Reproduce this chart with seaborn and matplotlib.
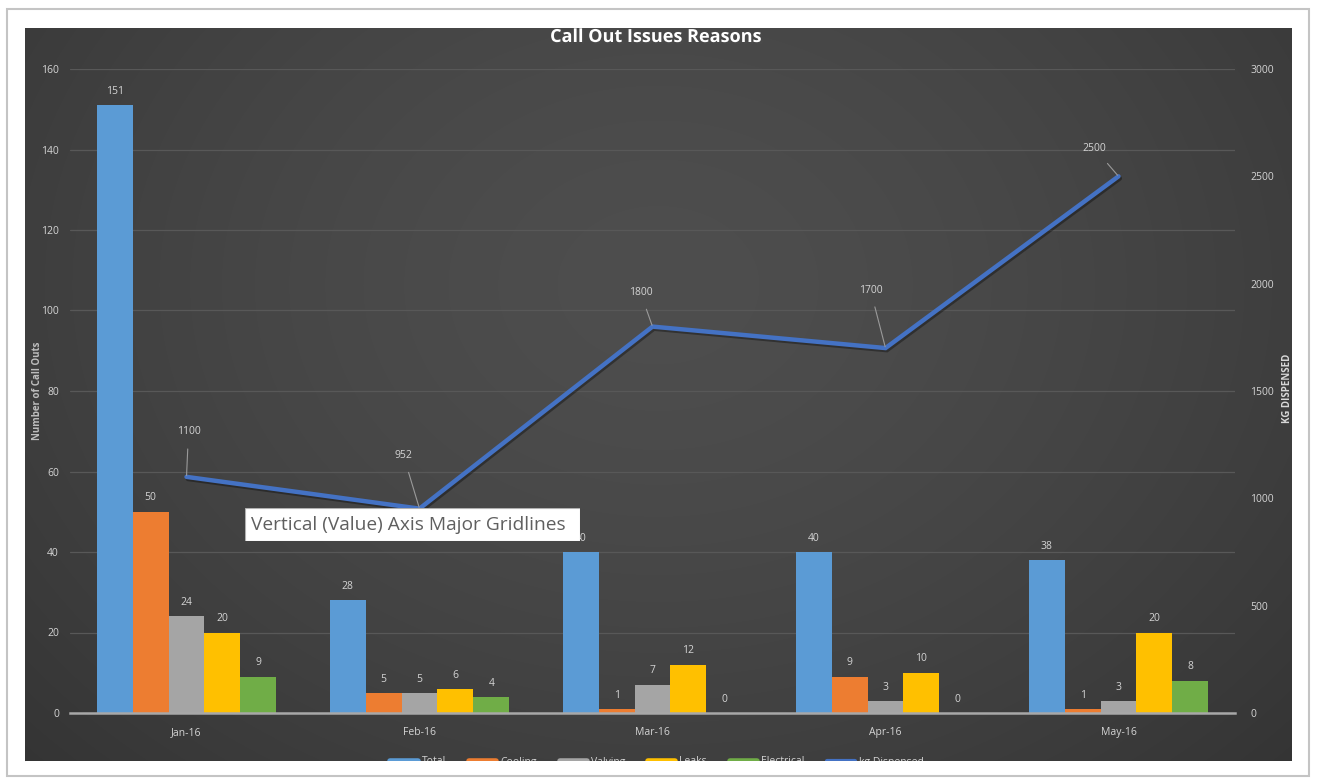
import numpy as np
import pandas as pd
import matplotlib
matplotlib.use("Agg")
import matplotlib.pyplot as plt
import matplotlib.patheffects as pe
from matplotlib.lines import Line2D
from matplotlib.patches import Rectangle
import seaborn as sns

# ---------------- data ----------------
months = ["Jan-16", "Feb-16", "Mar-16", "Apr-16", "May-16"]
series_names = ["Total", "Cooling", "Valving", "Leaks", "Electrical"]
total = [151, 28, 40, 40, 38]
cooling = [50, 5, 1, 9, 1]
valving = [24, 5, 7, 3, 3]
leaks = [20, 6, 12, 10, 20]
electrical = [9, 4, 0, 0, 8]
kg_dispensed = [1100, 952, 1800, 1700, 2500]
line_name = "kg Dispensed"

left_ticks = [0, 20, 40, 60, 80, 100, 120, 140, 160]
right_ticks = [0, 500, 1000, 1500, 2000, 2500, 3000]

# ---------------- styles ----------------
bar_colors = ["#5B9BD5", "#ED7D31", "#A5A5A5", "#FFC000", "#70AD47"]
line_color = "#4472C4"
txt_color = "#d4d4d4"
FONT = ["Open Sans", "DejaVu Sans"]
# label offsets (pixels) for the line labels
line_label_offsets = [(2, 45), (-16, 53), (-12, 34), (-15, 58), (-24, 28)]

sns.set_style("dark")
plt.rcParams["font.family"] = FONT

W, H = 1317, 778
fig = plt.figure(figsize=(W / 100, H / 100), dpi=100, facecolor="white")

def fx(px):
    return px / W

def fy(py):
    return 1 - py / H

# background dark gradient panel
bx0, by0, bx1, by1 = 25, 28, 1292, 762
bg = fig.add_axes([fx(bx0), fy(by1), fx(bx1 - bx0), (by1 - by0) / H], zorder=-1)
yy, xx = np.mgrid[0:1:300j, 0:1:600j]
r = np.sqrt(((xx - 0.5) / 0.7) ** 2 + ((yy - 0.35) / 0.95) ** 2)
val = 78 - 26 * np.clip(r, 0, 1.2) ** 1.5
val = np.clip(val, 44, 90) / 255.0
img = np.dstack([val, val, val])
bg.imshow(img, aspect="auto", extent=[0, 1, 0, 1], origin="upper", interpolation="bilinear")
bg.set_axis_off()

# main axes
ax_l, ax_r, ax_t, ax_b = 70, 1235, 69, 713
ax = fig.add_axes([fx(ax_l), fy(ax_b), fx(ax_r - ax_l), (ax_b - ax_t) / H], zorder=1)
ax.set_facecolor("none")

df = pd.DataFrame({
    "Month": np.repeat(months, len(series_names)),
    "Series": series_names * len(months),
    "Value": np.array([total, cooling, valving, leaks, electrical]).T.ravel(),
})

sns.barplot(data=df, x="Month", y="Value", hue="Series", order=months,
            hue_order=series_names, palette=bar_colors, width=0.77,
            saturation=1, ax=ax, legend=False, errorbar=None, zorder=3,
            linewidth=0, edgecolor="none")

for cont in ax.containers:
    ax.bar_label(cont, labels=[f"{int(v)}" for v in cont.datavalues],
                 padding=6, color=txt_color, fontsize=7.5, family=FONT)

ax.set_ylim(0, 160)
ax.set_yticks(left_ticks)
ax.set_xlim(-0.5, len(months) - 0.5)
ax.grid(axis="y", color="#585858", lw=0.9, zorder=0)
ax.grid(axis="x", visible=False)
ax.set_axisbelow(True)
for s in ["top", "right", "left"]:
    ax.spines[s].set_visible(False)
ax.spines["bottom"].set_color("#a8a8a8")
ax.spines["bottom"].set_linewidth(1.8)
ax.spines["bottom"].set_zorder(4)
ax.tick_params(axis="both", length=0, colors=txt_color, labelsize=7.5)
ax.tick_params(axis="y", pad=8)
ax.tick_params(axis="x", pad=10)
ax.set_xlabel("")
ax.set_ylabel("")

# secondary axis with line
ax2 = ax.twinx()
ax2.set_facecolor("none")
pos = np.arange(len(months))
sns.lineplot(x=pos, y=kg_dispensed, ax=ax2, color=line_color, lw=3.2,
             solid_joinstyle="miter",
             path_effects=[pe.SimpleLineShadow(offset=(1, -1.5), alpha=0.35), pe.Normal()])
ax2.set_ylim(0, 3000)
ax2.set_yticks(right_ticks)
ax2.set_xlim(-0.5, len(months) - 0.5)
for s in ["top", "right", "left", "bottom"]:
    ax2.spines[s].set_visible(False)
ax2.tick_params(axis="y", length=0, colors=txt_color, labelsize=7.5, pad=11)
ax2.grid(False)

for x, v, (dx, dy) in zip(pos, kg_dispensed, line_label_offsets):
    ax2.annotate(f"{v}", xy=(x, v), xytext=(dx, dy), textcoords="offset pixels",
                 ha="center", va="center", color=txt_color, fontsize=7.5,
                 family=FONT,
                 arrowprops=dict(arrowstyle="-", color="#9a9a9a", lw=0.8,
                                 shrinkA=6, shrinkB=1))

# axis titles
fig.text(fx(38), fy(391), "Number of Call Outs", rotation=90, ha="center", va="center",
         color="#bdbdbd", fontsize=7, fontweight="bold", family=FONT)
fig.text(fx(1287), fy(388), "KG DISPENSED", rotation=90, ha="center", va="center",
         color="#d8d8d8", fontsize=7, fontweight="bold", family=FONT)

# title
fig.text(fx(655), fy(37), "Call Out Issues Reasons", ha="center", va="center",
         color="white", fontsize=13, fontweight="bold", family=FONT,
         path_effects=[pe.withSimplePatchShadow(offset=(1.5, -1.5), alpha=0.6)])

# legend (partially cut by the frame bottom)
handles = [Line2D([0], [0], color=c, lw=4) for c in bar_colors] + \
          [Line2D([0], [0], color=line_color, lw=3)]
leg = fig.legend(handles, series_names + [line_name], loc="center",
                 bbox_to_anchor=(fx(657), fy(762)), ncol=6, frameon=False,
                 fontsize=7.5, handlelength=2.6, columnspacing=2.2,
                 handletextpad=0.4, labelcolor=txt_color)
leg.set_zorder(3)

# white strip covering bottom of legend
cover = fig.add_axes([fx(bx0), fy(774), fx(bx1 - bx0 + 2), (774 - 761) / H], zorder=5)
cover.set_axis_off()
cover.add_patch(Rectangle((0, 0), 1, 1, transform=cover.transAxes, color="white"))

# tooltip box
tip = fig.add_axes([fx(245), fy(541), fx(580 - 245), (541 - 508) / H], zorder=6)
tip.set_axis_off()
tip.add_patch(Rectangle((0, 0), 1, 1, transform=tip.transAxes, facecolor="white",
                        edgecolor="#b0b0b0", lw=0.8))
tip.text(0.018, 0.5, "Vertical (Value) Axis Major Gridlines", transform=tip.transAxes,
         ha="left", va="center", color="#5f5f5f", fontsize=13.8, family=FONT)

# outer frame
frame = Rectangle((fx(7), fy(776)), fx(1309 - 7), (776 - 9) / H, transform=fig.transFigure,
                  facecolor="none", edgecolor="#c4c4c4", lw=1.5, zorder=10)
fig.patches.append(frame)

fig.savefig("out.png", dpi=100, facecolor="white")
